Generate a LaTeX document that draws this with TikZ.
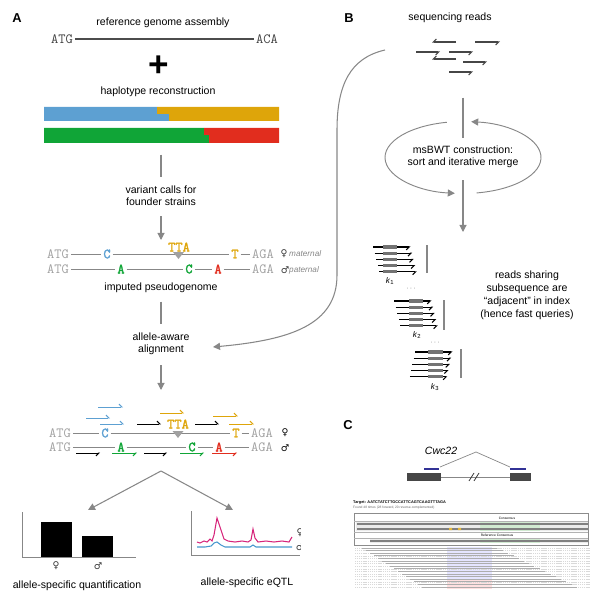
\documentclass[tikz,border=0pt]{standalone}
\usepackage{fontspec}
\setmainfont{Liberation Sans}
\newfontfamily\symfont{DejaVu Sans}
\newfontfamily\snpfont{Latin Modern Mono}[FakeBold=2.2]
\usetikzlibrary{arrows.meta}

\definecolor{hapblue}{RGB}{93,160,210}
\definecolor{hapgold}{RGB}{222,165,10}
\definecolor{hapgreen}{RGB}{16,165,55}
\definecolor{hapred}{RGB}{225,45,30}
\definecolor{gry}{RGB}{135,135,135}
\definecolor{seqgry}{RGB}{160,160,160}
\definecolor{rdgry}{RGB}{70,70,70}
\definecolor{qtlmag}{RGB}{214,36,122}
\definecolor{qtlblue}{RGB}{70,150,205}
\definecolor{navy}{RGB}{50,50,150}
\definecolor{exon}{RGB}{70,70,70}

\tikzset{
  lbl/.style={font=\fontsize{9}{10.5}\selectfont, align=center},
  panel/.style={font=\fontsize{11}{11}\selectfont\bfseries},
  seq/.style={font=\fontsize{12}{12}\selectfont\ttfamily, text=seqgry, inner sep=1.5pt},
  snp/.style={font=\fontsize{12}{12}\snpfont, inner sep=1.5pt},
  sx/.style={font=\fontsize{8}{8}\symfont, text=black!80, inner sep=1pt},
  sxl/.style={font=\fontsize{7}{7}\selectfont\itshape, text=gry, inner sep=0pt},
  gline/.style={draw=gry, line width=0.8pt},
  conn/.style={draw=gry, line width=0.9pt, shorten <=4pt, shorten >=4pt},
  carrow/.style={draw=gry, line width=0.9pt, shorten <=5pt, -{Triangle[length=6pt,width=6pt]}},
  rdm/.style={line width=0.8pt, -{Straight Barb[left,length=2.5pt,width=5pt]}},
  rdp/.style={line width=0.8pt, -{Straight Barb[right,length=2.5pt,width=5pt]}},
  kseg/.style={draw=black!55, line width=2.6pt},
  kbar/.style={draw=gry, line width=1.1pt},
  txt/.style={line width=1.2pt, dash pattern=on 0.5pt off 0.25pt},
}

\begin{document}
\begin{tikzpicture}[x=0.03cm, y=-0.03cm, every node/.style={font=\fontsize{9}{10.5}\selectfont}]
\useasboundingbox (0,0) rectangle (600,600);

% ---------------- panel A ----------------
\node[panel] (pA) at (17,18) {A};
\node[lbl] (refasm) at (163,23) {reference genome assembly};
\node[seq, text=black!75] (ra) at (62,39) {ATG};
\node[seq, text=black!75] (rz) at (267,39) {ACA};
\draw[draw=black!70, line width=1pt] (ra) -- (rz);
\node (plus) at (159,66) {\fontsize{30}{30}\selectfont\bfseries +};
\node[lbl] (hap) at (158,92) {haplotype reconstruction};

% haplotype bars
\fill[hapblue] (44,107) -- (157,107) -- (157,114) -- (169,114) -- (169,121) -- (44,121) -- cycle;
\fill[hapgold] (157,107) -- (279,107) -- (279,121) -- (169,121) -- (169,114) -- (157,114) -- cycle;
\fill[hapgreen] (44,128) -- (204,128) -- (204,135) -- (209,135) -- (209,143) -- (44,143) -- cycle;
\fill[hapred] (204,128) -- (279,128) -- (279,143) -- (209,143) -- (209,135) -- (204,135) -- cycle;

\coordinate (hapbot) at (161,150);
\node[lbl] (calls) at (161,196) {variant calls for\\founder strains};
\coordinate (pgin) at (161,240);
\draw[conn] (hapbot) -- (calls.north);
\draw[carrow] (calls.south) -- (pgin);

% imputed pseudogenome
\node[seq] (ma1) at (58,254) {ATG};
\node[snp, text=hapblue] (mc1) at (107,254) {C};
\node[snp, text=hapgold] (mtta1) at (179,247) {TTA};
\node[snp, text=hapgold] (mt1) at (235,254) {T};
\node[seq] (mz1) at (263,254) {AGA};
\draw[gline] (ma1) -- (mc1) -- (mt1) -- (mz1);
\fill[seqgry] (173,252) -- (184,252) -- (178.5,259) -- cycle;
\node[sx] (fem1) at (284,254) {♀};
\node[sxl, anchor=west] (matlbl) at (289,254) {maternal};

\node[seq] (pa1) at (58,269) {ATG};
\node[snp, text=hapgreen] (pg1) at (121,269) {A};
\node[snp, text=hapgreen] (pc1) at (189,269) {C};
\node[snp, text=hapred] (pr1) at (218,269) {A};
\node[seq] (pz1) at (263,269) {AGA};
\draw[gline] (pa1) -- (pg1) -- (pc1) -- (pr1) -- (pz1);
\node[sx] (mal1) at (285,270) {♂};
\node[sxl, anchor=west] (patlbl) at (289,270) {paternal};

\node[lbl] (imp) at (161,288) {imputed pseudogenome};
\node[lbl] (align) at (161,344) {allele-aware\\alignment};
\coordinate (alnbot) at (161,390);
\draw[conn] (imp.south) -- (align.north);
\draw[carrow] (align.south) -- (alnbot);

% aligned reads
\node[seq] (ma2) at (60,433) {ATG};
\node[snp, text=hapblue] (mc2) at (105,433) {C};
\node[snp, text=hapgold] (mtta2) at (178,424) {TTA};
\node[snp, text=hapgold] (mt2) at (236,433) {T};
\node[seq] (mz2) at (262,433) {AGA};
\draw[gline] (ma2) -- (mc2) -- (mt2) -- (mz2);
\fill[seqgry] (172.5,431) -- (183.5,431) -- (178,438) -- cycle;
\node[sx, text=black] (fem2) at (285,433) {♀};

\node[seq] (pa2) at (60,447) {ATG};
\node[snp, text=hapgreen] (pg2) at (121,447) {A};
\node[snp, text=hapgreen] (pc2) at (192,447) {C};
\node[snp, text=hapred] (pr2) at (219,447) {A};
\node[seq] (pz2) at (262,447) {AGA};
\draw[gline] (pa2) -- (pg2) -- (pc2) -- (pr2) -- (pz2);
\node[sx, text=black] (mal2) at (285,448) {♂};

\foreach \xa/\xb/\yy/\cc in {98/123/407/hapblue, 86/110/418/hapblue, 100/124/424/hapblue,
    137/161/424/black, 160/184/413/hapgold, 195/219/424/black, 213/238/416/hapgold, 229/254/424/hapgold}
  \draw[rdm, \cc] (\xa,\yy) -- (\xb,\yy);
\foreach \xa/\xb/\cc in {76/100/black, 112/137/hapgreen, 144/167/black, 180/204/hapgreen, 212/237/hapred}
  \draw[rdp, \cc] (\xa,453) -- (\xb,453);

% downstream analyses
\coordinate (split) at (161,471);
\coordinate (qin) at (88,510);
\coordinate (ein) at (233,510);
\draw[carrow, shorten <=0pt] (split) -- (qin);
\draw[carrow, shorten <=0pt] (split) -- (ein);

\draw[gry, line width=0.8pt] (22,512) -- (22,557) -- (136,557);
\fill (41,522) rectangle (72,557);
\fill (82,536) rectangle (113,557);
\node[sx] (qfem) at (56,566) {♀};
\node[sx] (qmal) at (98,566) {♂};
\node[lbl] (quant) at (77,586) {allele-specific quantification};

\begin{scope}
\clip (180,500) rectangle (300,560);
\draw[gry, line width=0.8pt] (191,511) -- (191,555) -- (300,555);
\draw[qtlmag, line width=0.9pt] (197,542) -- (200,543) -- (204,541) -- (207,542) -- (210,539) -- (212,541)
  -- (214,535) -- (217,518) -- (220,527) -- (224,539) -- (228,541) -- (235,542) -- (242,541) -- (248,542)
  -- (251,540) -- (253,529) -- (255,538) -- (258,542) -- (266,541) -- (274,542) -- (282,541) -- (289,542) -- (292,537);
\draw[qtlblue, line width=0.9pt] (197,547) -- (205,547) -- (211,546) -- (214,543) -- (217,542) -- (221,545)
  -- (225,547) -- (250,547) -- (253,545) -- (256,547) -- (292,547);
\node[sx] (efem) at (300,533) {♀};
\node[sx] (emal) at (300,547) {♂};
\end{scope}
\node[lbl] (eqtl) at (247,583) {allele-specific eQTL};

% ---------------- panel B ----------------
\node[panel] (pB) at (349,18) {B};
\node[lbl] (seqrd) at (450,18) {sequencing reads};
\foreach \xa/\xb/\yy in {456/432/42, 475/500/42, 416/440/52, 449/473/52, 456/432/59, 463/487/62, 449/473/72}
  \draw[rdp, rdgry, line width=1pt] (\xa,\yy) -- (\xb,\yy);

\coordinate (rdbot) at (463,93);
\node[lbl] (msbwt) at (463,157) {msBWT construction:\\sort and iterative merge};
\coordinate (kin) at (463,232);
\draw[conn, shorten >=3pt] (rdbot) -- (msbwt.north);
\draw[carrow, shorten <=7pt] (msbwt.south) -- (kin);

% iterative merge loop
\coordinate (ellc) at (463,157.5);
\draw[gry, line width=0.8pt, -{Triangle[length=6pt,width=6pt]}]
  (ellc) ++(258:78 and 36) arc[start angle=258, end angle=96, x radius=78, y radius=36];
\draw[gry, line width=0.8pt, -{Triangle[length=6pt,width=6pt]}]
  (ellc) ++(80:78 and 36) arc[start angle=80, end angle=-84, x radius=78, y radius=36];

% reads sorted by shared subsequence
\foreach \yo/\xo/\dx/\gs/\ge in {247/373/1.6/383/397, 301/394/1.6/409/423, 352/415/-1.3/428/443} {
  \foreach \i in {0,...,4} {
    \pgfmathsetmacro\yy{\yo+6.2*\i}
    \pgfmathsetmacro\xs{\xo+\dx*\i}
    \pgfmathsetmacro\xe{\xs+37.5}
    \draw[rdp, black, line width=0.9pt] (\xs,\yy) -- (\xe,\yy);
    \draw[kseg] (\gs,\yy) -- (\ge,\yy);
  }
}
\draw[kbar] (427,245) -- (427,273);
\draw[kbar] (444,300) -- (444,330);
\draw[kbar] (461,349) -- (461,378);
\node[font=\fontsize{7}{7}\selectfont] (k1) at (390,281) {\textit{k}\textsubscript{1}};
\node[font=\fontsize{7}{7}\selectfont] (k2) at (417,335) {\textit{k}\textsubscript{2}};
\node[font=\fontsize{7}{7}\selectfont] (k3) at (435,387) {\textit{k}\textsubscript{3}};
\node[font=\fontsize{6}{6}\selectfont, text=gry] (dots1) at (411,289) {·\,·\,·};
\node[font=\fontsize{6}{6}\selectfont, text=gry] (dots2) at (435,343) {·\,·\,·};
\node[lbl, font=\fontsize{9}{11}\selectfont] (adj) at (527,295) {reads sharing\\subsequence are\\“adjacent” in index\\(hence fast queries)};

% curve from reads to alignment
\coordinate (bstart) at (385,50);
\coordinate (alnin) at (213,347);
\draw[carrow, shorten <=0pt] (bstart) .. controls (350,58) and (337,85) .. (337,130) -- (337,275)
  .. controls (337,325) and (290,340) .. (alnin);

% ---------------- panel C ----------------
\node[panel] (pC) at (348,425) {C};
\node[font=\fontsize{9}{9}\selectfont\itshape] (gene) at (441,451) {Cwc22};
\fill[exon] (407,473) rectangle (441,481);
\fill[exon] (510,473) rectangle (531,481);
\draw[gry, line width=0.8pt] (441,477) -- (510,477);
\draw[black!75, line width=0.7pt] (469,481) -- (474,473) (474,481) -- (479,473);
\draw[navy, line width=2pt] (424,469) -- (439,469) (510,469) -- (526,469);
\coordinate (don) at (440,467);
\coordinate (apex) at (476,452);
\coordinate (acc) at (510,467);
\draw[gry, line width=0.6pt] (don) -- (apex) -- (acc);

% search result screenshot
\node[anchor=west, inner sep=0pt, font=\fontsize{3.3}{3.3}\selectfont\bfseries] (tgt) at (353,503) {Target: AATCTATCTTGCCATTCAGTCAAGTTTAGA};
\node[anchor=west, inner sep=0pt, font=\fontsize{2.8}{2.8}\selectfont, text=black!60] (found) at (353,507.5) {Found 48 times (28 forward, 20 reverse-complemented)};
\fill[green!55!black!18] (480,522) rectangle (540,531);
\fill[green!55!black!18] (480,539) rectangle (540,543);
\fill[black!8] (356,522) rectangle (480,531) (540,522) rectangle (588,531) (370,539) rectangle (480,543) (540,539) rectangle (588,543);
\node[inner sep=0pt, font=\fontsize{2.8}{2.8}\selectfont] (cons) at (507,518.5) {Consensus};
\node[inner sep=0pt, font=\fontsize{2.8}{2.8}\selectfont] (refcons) at (497,535.5) {Reference Consensus};
\draw[txt, black!50] (357,524) -- (588,524);
\draw[txt, black!50] (357,529) -- (588,529);
\draw[txt, black!50] (370,541) -- (588,541);
\fill[hapgold!80] (449,527.8) rectangle (452,530.2) (458,527.8) rectangle (461,530.2);
\draw[black!45, line width=0.3pt] (354,513) rectangle (588,545);
\draw[black!30, line width=0.25pt] (354,532.5) -- (588,532.5) (354,521) -- (588,521) (354,538) -- (588,538);

\fill[blue!10] (447,546.5) rectangle (492,578.5);
\fill[red!12] (447,578.5) rectangle (492,589);
\foreach \i in {0,...,15} {
  \pgfmathsetmacro\yy{548+2.6*\i}
  \pgfmathsetmacro\xs{362+4*\i}
  \pgfmathsetmacro\xe{497+5.3*\i}
  \draw[black!15, line width=0.3pt, dash pattern=on 1pt off 0.6pt] (355,\yy) -- (590,\yy);
  \draw[txt, line width=0.6pt, black!32] (\xs,\yy) -- (\xe,\yy);
}
\end{tikzpicture}
\end{document}
